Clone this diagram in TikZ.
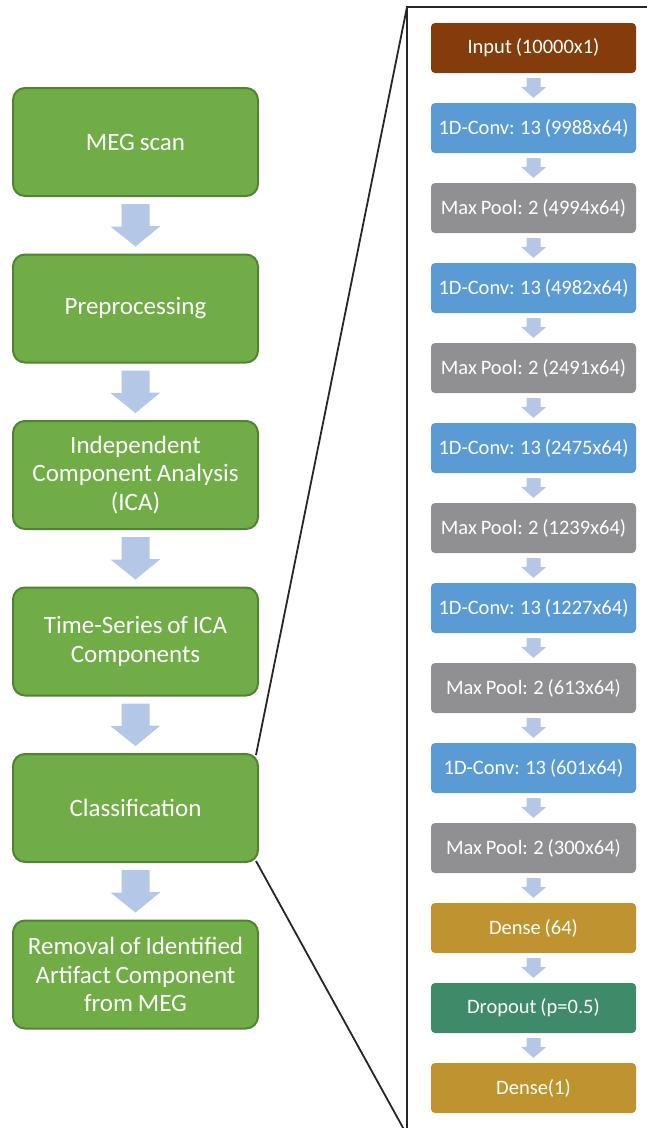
\documentclass[tikz,border=0pt]{standalone}
\usepackage{fontspec}
\setmainfont{Carlito}
\usetikzlibrary{calc}
\definecolor{stepgreen}{HTML}{70AD47}
\definecolor{stepgreenborder}{HTML}{548235}
\definecolor{arrowblue}{HTML}{B4C7E7}
\definecolor{inbrown}{HTML}{843C0C}
\definecolor{convblue}{HTML}{5B9BD5}
\definecolor{poolgray}{HTML}{909092}
\definecolor{densegold}{HTML}{BF9430}
\definecolor{dropteal}{HTML}{3E8A69}
\tikzset{
  leftbox/.style={draw=stepgreenborder, line width=2pt, fill=stepgreen, rounded corners=12pt,
    minimum width=245pt, minimum height=108pt, text width=240pt, align=center,
    text=white, font=\fontsize{25}{28.5}\selectfont, inner sep=0pt,
    execute at begin node={\spaceskip=4.8pt\relax}},
  layerbox/.style={fill=#1, rounded corners=4pt, minimum width=205pt, minimum height=50pt,
    text=white, font=\fontsize{20.5}{24}\selectfont, inner sep=0pt,
    execute at begin node={\spaceskip=3.9pt\relax}},
  bigarrow/.style={fill=arrowblue, draw=none},
  smallarrow/.style={fill=arrowblue, draw=none},
  link/.style={draw=black!85, line width=1.8pt},
}
\begin{document}
\begin{tikzpicture}[x=1pt,y=-1pt]
\useasboundingbox (0,0) rectangle (647,1128);
% left column
\node[leftbox] (s1) at (135.5,142) {MEG scan};
\node[leftbox] (s2) at (135.5,308.5) {Preprocessing};
\node[leftbox] (s3) at (135.5,475) {Independent\\Component Analysis\\(ICA)};
\node[leftbox] (s4) at (135.5,641.5) {Time-Series of ICA\\Components};
\node[leftbox] (s5) at (135.5,808) {Classification};
\node[leftbox] (s6) at (135.5,974.5) {Removal of Identified\\Artifact Component\\from MEG};
% big arrows
\foreach \a/\b in {s1/s2,s2/s3,s3/s4,s4/s5,s5/s6}{
  \fill[bigarrow] ($(\a.south)+(-14,7)$) -- ++(28,0) -- ++(0,22) -- ++(11,0) -- ($(\b.north)+(0,-7)$) -- ++(-25,-20) -- ++(11,0) -- cycle;
}
% frame
\coordinate (ftl) at (407,7);
\coordinate (fbl) at (407,1135);
\draw[link] (660,7) -- (ftl) -- (fbl);
\coordinate (c1) at ($(s5.north east)+(-3,2)$);
\coordinate (c2) at ($(s5.south east)+(-3,-2)$);
\draw[link] (c1) -- (ftl);
\draw[link] (c2) -- (fbl);
% right column
\foreach \i/\c/\t in {0/inbrown/{Input (10000x1)},
  1/convblue/{1D-Conv: 13 (9988x64)},
  2/poolgray/{Max Pool: 2 (4994x64)},
  3/convblue/{1D-Conv: 13 (4982x64)},
  4/poolgray/{Max Pool: 2 (2491x64)},
  5/convblue/{1D-Conv: 13 (2475x64)},
  6/poolgray/{Max Pool: 2 (1239x64)},
  7/convblue/{1D-Conv: 13 (1227x64)},
  8/poolgray/{Max Pool: 2 (613x64)},
  9/convblue/{1D-Conv: 13 (601x64)},
  10/poolgray/{Max Pool: 2 (300x64)},
  11/densegold/{Dense (64)},
  12/dropteal/{Dropout (p=0.5)},
  13/densegold/{Dense(1)}}{
  \node[layerbox=\c] (L\i) at (533.5,{48+80*\i}) {\t};
}
\foreach \i [evaluate=\i as \j using int(\i+1)] in {0,...,12}{
  \fill[smallarrow] ($(L\i.south)+(-7,5)$) -- ++(14,0) -- ++(0,9) -- ++(5.5,0) -- ($(L\j.north)+(0,-5)$) -- ++(-12.5,-11) -- ++(5.5,0) -- cycle;
}
\end{tikzpicture}
\end{document}
